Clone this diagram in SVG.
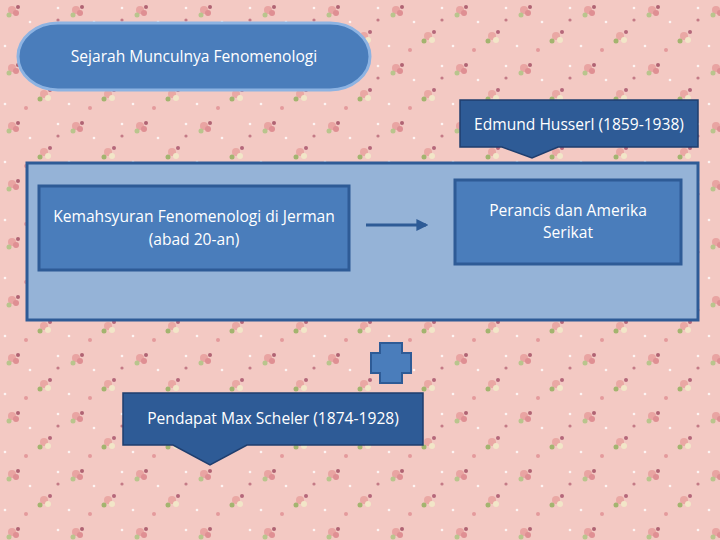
<svg xmlns="http://www.w3.org/2000/svg" width="720" height="540" viewBox="0 0 720 540">
<defs>
<pattern id="floral" x="0" y="0" width="64" height="58" patternUnits="userSpaceOnUse">
<rect width="64" height="58" fill="#f3c9c3"/>
<circle cx="12" cy="10" r="4" fill="#e9a4a2"/>
<circle cx="16" cy="13" r="3" fill="#df8f93"/>
<circle cx="9" cy="15" r="2.5" fill="#b9c58d"/>
<circle cx="18" cy="7" r="2" fill="#b06373"/>
<circle cx="44" cy="36" r="4" fill="#eaa8a4"/>
<circle cx="48" cy="40" r="3" fill="#f2e6c8"/>
<circle cx="40" cy="41" r="2.5" fill="#a3b46f"/>
<circle cx="50" cy="32" r="2" fill="#b5677a"/>
<circle cx="30" cy="22" r="1.3" fill="#ffffff" opacity="0.8"/>
<circle cx="58" cy="8" r="1.3" fill="#ffffff" opacity="0.8"/>
<circle cx="5" cy="46" r="1.3" fill="#ffffff" opacity="0.8"/>
<circle cx="26" cy="50" r="2" fill="#e49a9c"/>
<circle cx="58" cy="20" r="1.6" fill="#c47a86"/>
</pattern>
<marker id="arrow" viewBox="0 0 10 10" refX="8" refY="5" markerWidth="4" markerHeight="4" orient="auto">
<path d="M0,0 L10,5 L0,10 z" fill="#2e5b96"/>
</marker>
<style>
.t { font-family: "Open Sans", "Liberation Sans", sans-serif; font-size: 15.6px; fill: #ffffff; text-anchor: middle; }
.box { fill: #4a7dbb; stroke: #2e5b96; stroke-width: 3; }
.callout { fill: #2e5b96; stroke: #1f3e6e; stroke-width: 1.5; }
</style>
</defs>
<rect width="720" height="540" fill="url(#floral)"/>

<g id="title">
<rect x="18" y="23" width="352" height="67" rx="40" ry="33.5" fill="#4a7dbb" stroke="#8db3e2" stroke-width="3"/>
<text class="t" x="194" y="62">Sejarah Munculnya Fenomenologi</text>
</g>

<g id="container">
<rect x="27" y="163" width="671" height="157" fill="#95b3d7" stroke="#2e5b96" stroke-width="3"/>
</g>

<g id="husserl">
<path class="callout" d="M460,100 H698 V147 H558 L532,158 L502,147 H460 Z"/>
<text class="t" x="579" y="130">Edmund Husserl (1859-1938)</text>
</g>

<g id="jerman">
<rect class="box" x="39" y="186" width="310" height="84"/>
<text class="t" x="194" y="222">Kemahsyuran Fenomenologi di Jerman</text>
<text class="t" x="194" y="245">(abad 20-an)</text>
</g>

<g id="perancis">
<rect class="box" x="455" y="180" width="226" height="84"/>
<text class="t" x="568" y="216">Perancis dan Amerika</text>
<text class="t" x="568" y="238">Serikat</text>
</g>

<g id="plus">
<path d="M380,343 H402 V353 H411 V373 H402 V383 H380 V373 H371 V353 H380 Z" fill="#4a7dbb" stroke="#2e5b96" stroke-width="2"/>
</g>

<g id="scheler">
<path class="callout" d="M123,393 H423 V445 H247 L210,465 L173,445 H123 Z"/>
<text class="t" x="273" y="424">Pendapat Max Scheler (1874-1928)</text>
</g>

<g id="connectors">
<line x1="366" y1="225" x2="426" y2="225" stroke="#2e5b96" stroke-width="3" marker-end="url(#arrow)"/>
</g>
</svg>
